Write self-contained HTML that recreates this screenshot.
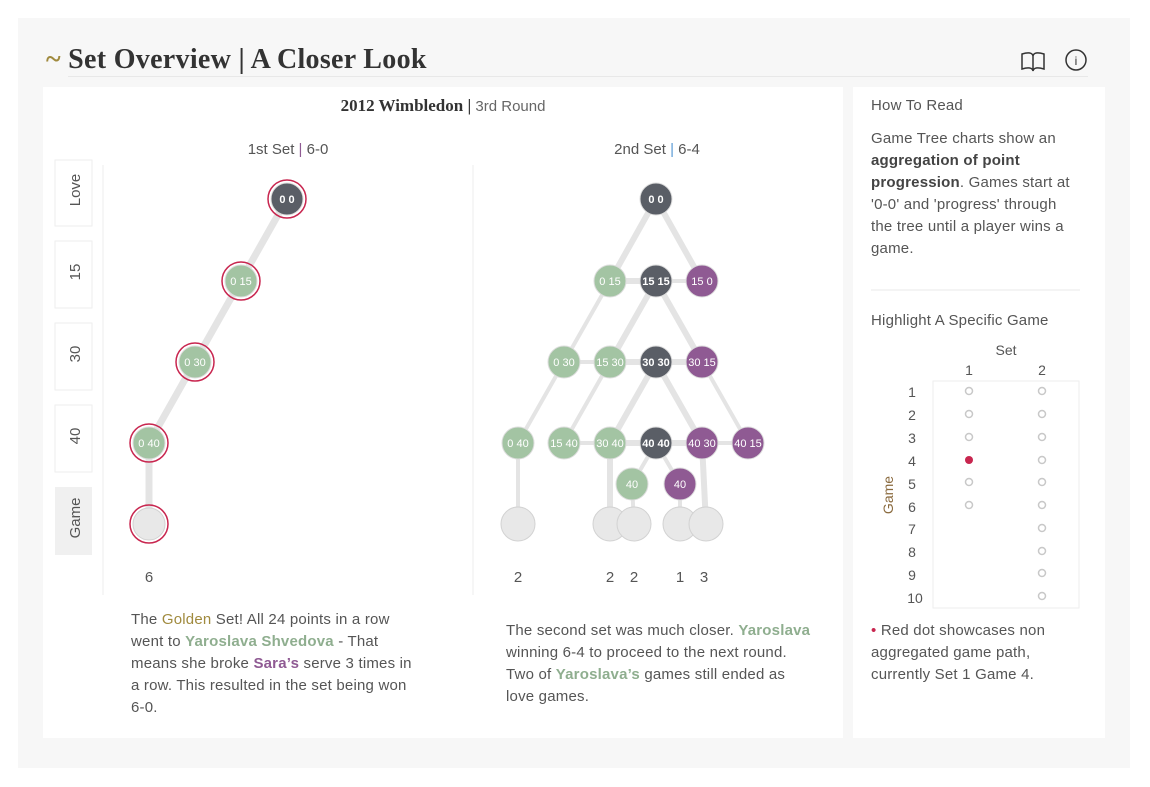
<!DOCTYPE html>
<html><head><meta charset="utf-8"><style>
body{margin:0;width:1150px;height:787px;background:#fff;font-family:"Liberation Sans",sans-serif;position:relative;overflow:hidden}
.a{position:absolute}
.p{font-size:15px;color:#555;line-height:22px;white-space:nowrap;letter-spacing:0.2px}
.g{color:#8fae8f;font-weight:bold}.pu{color:#8f5a93;font-weight:bold}
</style></head><body>
<div class="a" style="left:18px;top:18px;width:1112px;height:750px;background:#f7f7f7"></div>
<div class="a" style="left:43px;top:87px;width:800px;height:651px;background:#fff"></div>
<div class="a" style="left:853px;top:87px;width:252px;height:651px;background:#fff"></div>
<div class="a" style="left:46px;top:44px;font-family:'Liberation Serif',serif;font-weight:bold;font-size:28px;color:#333;letter-spacing:0.3px"><span style="color:#a08a3e">~</span> Set Overview | A Closer Look</div>
<div class="a" style="left:68px;top:76px;width:1020px;height:1px;background:#e8e8e8"></div>
<svg class="a" style="left:0;top:0" width="1150" height="787" font-family="Liberation Sans, sans-serif">
<g fill="none" stroke="#333" stroke-width="1.5"><path d="M1022 54 q10-3 11 2 q1-5 11-2 v15 q-10-3-11 2 q-1-5-11-2z M1033 56v15"/><circle cx="1076" cy="60" r="10"/></g>
<text x="1076" y="65" font-size="12" text-anchor="middle" fill="#333">i</text>
<text x="443" y="111" text-anchor="middle" font-size="17"><tspan font-family="Liberation Serif,serif" font-weight="bold" fill="#333">2012 Wimbledon |</tspan><tspan fill="#666" font-size="15"> 3rd Round</tspan></text>
<text x="288" y="154" text-anchor="middle" font-size="15" fill="#555">1st Set <tspan fill="#8f5a93">|</tspan> 6-0</text>
<text x="657" y="154" text-anchor="middle" font-size="15" fill="#555">2nd Set <tspan fill="#5b9bd5">|</tspan> 6-4</text>
<g fill="#fff" stroke="#eee"><rect x="55" y="160" width="37" height="66"/><rect x="55" y="241" width="37" height="67"/><rect x="55" y="323" width="37" height="67"/><rect x="55" y="405" width="37" height="67"/></g>
<rect x="55" y="487" width="37" height="68" fill="#f0f0f0"/>
<line x1="103" y1="165" x2="103" y2="595" stroke="#eee"/><line x1="473" y1="165" x2="473" y2="595" stroke="#eee"/>
<g font-size="15" fill="#555" text-anchor="middle">
<text transform="translate(80,190) rotate(-90)">Love</text><text transform="translate(80,272) rotate(-90)">15</text><text transform="translate(80,354) rotate(-90)">30</text><text transform="translate(80,436) rotate(-90)">40</text><text transform="translate(80,518) rotate(-90)">Game</text>
<text x="149" y="582">6</text><text x="518" y="582">2</text><text x="610" y="582">2</text><text x="634" y="582">2</text><text x="680" y="582">1</text><text x="704" y="582">3</text>
</g>
<g stroke="#e4e4e4" stroke-linecap="round" fill="none">
<path d="M287 199L149 443L149 524" stroke-width="7"/>
<path d="M656 199L610 281M656 199L702 281M656 281L702 362M610 281L656 281M656 281L610 362M656 362L702 362M610 362L656 362M656 362L610 443M656 362L702 443M610 443L656 443M656 443L702 443M702 443L706 524M610 443L610 524" stroke-width="6"/>
<path d="M610 281L564 362M656 281L702 281M564 362L518 443M564 362L610 362M610 362L564 443M702 362L748 443M518 443L518 524M564 443L610 443M702 443L748 443M656 443L632 484M656 443L680 484M632 484L634 524M680 484L680 524" stroke-width="4"/>
</g>
<g stroke="#d2d2d2" fill="#e8e8e8"><circle cx="518" cy="524" r="17"/><circle cx="610" cy="524" r="17"/><circle cx="634" cy="524" r="17"/><circle cx="680" cy="524" r="17"/><circle cx="706" cy="524" r="17"/></g>
<g fill="none" stroke="#c8264f" stroke-width="1.5"><circle cx="287" cy="199" r="19"/><circle cx="241" cy="281" r="19"/><circle cx="195" cy="362" r="19"/><circle cx="149" cy="443" r="19"/><circle cx="149" cy="524" r="19"/></g>
<circle cx="149" cy="524" r="16" fill="#e8e8e8" stroke="#d2d2d2"/>
<g stroke="#ddd">
<circle cx="287" cy="199" r="16" fill="#5a5e66"/><circle cx="241" cy="281" r="16" fill="#a3c4a3"/><circle cx="195" cy="362" r="16" fill="#a3c4a3"/><circle cx="149" cy="443" r="16" fill="#a3c4a3"/>
<circle cx="656" cy="199" r="16" fill="#5a5e66"/>
<circle cx="610" cy="281" r="16" fill="#a3c4a3"/><circle cx="656" cy="281" r="16" fill="#5a5e66"/><circle cx="702" cy="281" r="16" fill="#8f5a93"/>
<circle cx="564" cy="362" r="16" fill="#a3c4a3"/><circle cx="610" cy="362" r="16" fill="#a3c4a3"/><circle cx="656" cy="362" r="16" fill="#5a5e66"/><circle cx="702" cy="362" r="16" fill="#8f5a93"/>
<circle cx="518" cy="443" r="16" fill="#a3c4a3"/><circle cx="564" cy="443" r="16" fill="#a3c4a3"/><circle cx="610" cy="443" r="16" fill="#a3c4a3"/><circle cx="656" cy="443" r="16" fill="#5a5e66"/><circle cx="702" cy="443" r="16" fill="#8f5a93"/><circle cx="748" cy="443" r="16" fill="#8f5a93"/>
<circle cx="632" cy="484" r="16" fill="#a3c4a3"/><circle cx="680" cy="484" r="16" fill="#8f5a93"/>
</g>
<g fill="#fff" font-size="11" text-anchor="middle">
<text x="287" y="203" font-weight="bold">0 0</text><text x="241" y="285">0 15</text><text x="195" y="366">0 30</text><text x="149" y="447">0 40</text>
<text x="656" y="203" font-weight="bold">0 0</text><text x="610" y="285">0 15</text><text x="656" y="285" font-weight="bold">15 15</text><text x="702" y="285">15 0</text>
<text x="564" y="366">0 30</text><text x="610" y="366">15 30</text><text x="656" y="366" font-weight="bold">30 30</text><text x="702" y="366">30 15</text>
<text x="518" y="447">0 40</text><text x="564" y="447">15 40</text><text x="610" y="447">30 40</text><text x="656" y="447" font-weight="bold">40 40</text><text x="702" y="447">40 30</text><text x="748" y="447">40 15</text>
<text x="632" y="488">40</text><text x="680" y="488">40</text>
</g>
<line x1="871" y1="290" x2="1080" y2="290" stroke="#e8e8e8"/>
<text x="1006" y="355" font-size="14" fill="#555" text-anchor="middle">Set</text>
<text x="969" y="375" font-size="14" fill="#555" text-anchor="middle">1</text><text x="1042" y="375" font-size="14" fill="#555" text-anchor="middle">2</text>
<rect x="933" y="381" width="146" height="227" fill="none" stroke="#eee"/>
<text transform="translate(893,495) rotate(-90)" font-size="14" fill="#8a6a3e" text-anchor="middle">Game</text>
<g font-size="14" fill="#555" text-anchor="middle">
<text x="912" y="397">1</text><text x="912" y="420">2</text><text x="912" y="443">3</text><text x="912" y="466">4</text><text x="912" y="489">5</text><text x="912" y="512">6</text><text x="912" y="534">7</text><text x="912" y="557">8</text><text x="912" y="580">9</text><text x="915" y="603">10</text>
</g>
<g fill="none" stroke="#c8c8c8" stroke-width="1.5">
<circle cx="969" cy="391" r="3.5"/><circle cx="969" cy="414" r="3.5"/><circle cx="969" cy="437" r="3.5"/><circle cx="969" cy="482" r="3.5"/><circle cx="969" cy="505" r="3.5"/>
<circle cx="1042" cy="391" r="3.5"/><circle cx="1042" cy="414" r="3.5"/><circle cx="1042" cy="437" r="3.5"/><circle cx="1042" cy="460" r="3.5"/><circle cx="1042" cy="482" r="3.5"/><circle cx="1042" cy="505" r="3.5"/><circle cx="1042" cy="528" r="3.5"/><circle cx="1042" cy="551" r="3.5"/><circle cx="1042" cy="573" r="3.5"/><circle cx="1042" cy="596" r="3.5"/>
</g>
<circle cx="969" cy="460" r="4" fill="#c8264f"/>
</svg>
<div class="a p" style="left:131px;top:609px">The <span style="color:#a08a3e">Golden</span> Set! All 24 points in a row<br>went to <span class="g">Yaroslava Shvedova</span> - That<br>means she broke <span class="pu">Sara’s</span> serve 3 times in<br>a row. This resulted in the set being won<br>6-0.</div>
<div class="a p" style="left:506px;top:620px">The second set was much closer. <span class="g">Yaroslava</span><br>winning 6-4 to proceed to the next round.<br>Two of <span class="g">Yaroslava’s</span> games still ended as<br>love games.</div>
<div class="a p" style="left:871px;top:95px;color:#555">How To Read</div>
<div class="a p" style="left:871px;top:128px">Game Tree charts show an<br><b style="color:#444">aggregation of point</b><br><b style="color:#444">progression</b>. Games start at<br>'0-0' and 'progress' through<br>the tree until a player wins a<br>game.</div>
<div class="a p" style="left:871px;top:310px;color:#555">Highlight A Specific Game</div>
<div class="a p" style="left:871px;top:620px"><span style="color:#c8264f">•</span> Red dot showcases non<br>aggregated game path,<br>currently Set 1 Game 4.</div>
</body></html>
